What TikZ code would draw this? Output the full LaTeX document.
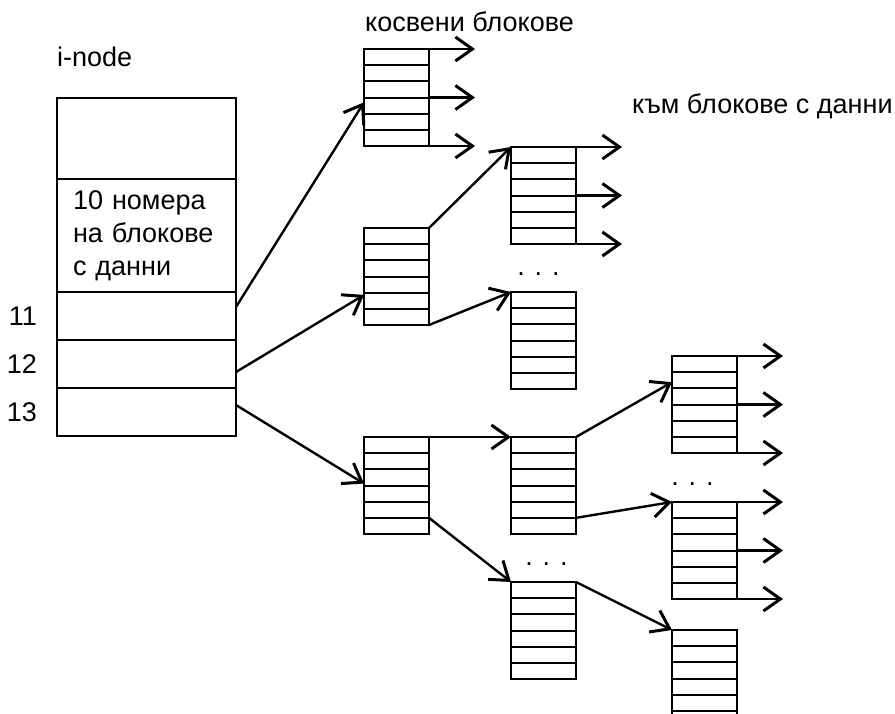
\documentclass[tikz,border=0pt]{standalone}
\usepackage{fontspec}
\setmainfont{Liberation Sans}
\usetikzlibrary{arrows.meta,positioning,calc}

\begin{document}
\begin{tikzpicture}[x=1pt,y=-1pt,
  every node/.style={font=\fontsize{27}{33}\selectfont},
  lbl/.style={inner sep=0pt},
  cell/.style={draw,line width=2.2pt,minimum width=179pt,inner sep=0pt,outer sep=0pt},
  blk/.style={draw,line width=2.2pt,minimum width=65pt,minimum height=97pt,inner sep=0pt,outer sep=0pt,anchor=north west,
    path picture={\foreach \k in {1,...,5}
      \draw[line width=2pt] ($(path picture bounding box.north west)!\k/6!(path picture bounding box.south west)$)
        -- ($(path picture bounding box.north east)!\k/6!(path picture bounding box.south east)$);}},
  ptr/.style={line width=2.4pt,-{Straight Barb[length=17pt,width=24pt,line width=3pt]}}]
  \useasboundingbox (0,0) rectangle (895,713);
  \clip (0,0) rectangle (895,713);

  % i-node
  \node[lbl,anchor=base west] (title) at (57,66) {i-node};
  \node[cell,anchor=north west,minimum height=81pt] (top) at (57,98) {};
  \node[cell,below=0pt of top,minimum height=113pt,text width=147pt,inner xsep=16pt,align=left] (data) {10 номера\\на блокове\\с данни};
  \node[cell,below=0pt of data,minimum height=48pt] (r11) {};
  \node[cell,below=0pt of r11,minimum height=48pt] (r12) {};
  \node[cell,below=0pt of r12,minimum height=48pt] (r13) {};
  \node[lbl,left=20pt of r11] (n11) {11};
  \node[lbl,left=20pt of r12] (n12) {12};
  \node[lbl,left=20pt of r13] (n13) {13};

  % indirect blocks
  \node[blk] (A) at (364,49) {};
  \node[blk] (B) at (364,228) {};
  \node[blk] (C) at (511,147) {};
  \node[blk] (D) at (511,292) {};
  \node[blk] (E) at (364,437) {};
  \node[blk] (F) at (511,437) {};
  \node[blk] (G) at (511,582) {};
  \node[blk] (H) at (672,356) {};
  \node[blk] (I) at (672,502) {};
  \node[blk] (J) at (672,630) {};

  \node[lbl,anchor=base west] (indir) at (365,31) {косвени блокове};
  \node[lbl,anchor=base west] (todata) at (632,113) {към блокове с данни};
  \node[lbl,anchor=base] (dotsD) at ($(D.north)+(-5,-17)$) {. . .};
  \node[lbl,anchor=base] (dotsG) at ($(G.north)+(3,-17)$) {. . .};
  \node[lbl,anchor=base] (dotsI) at ($(I.north)+(-12,-17)$) {. . .};

  % pointers
  \draw[ptr] ($(r11.east)+(0,-9)$) -- ($(A.north west)!0.55!(A.south west)$);
  \draw[ptr] ($(r12.east)+(0,8)$) -- ($(B.north west)!0.69!(B.south west)$);
  \draw[ptr] ($(r13.east)+(0,-7)$) -- ($(E.north west)!0.48!(E.south west)$);
  \draw[ptr] (B.north east) -- (C.north west);
  \draw[ptr] (B.south east) -- (D.north west);
  \draw[ptr] (E.north east) -- (F.north west);
  \draw[ptr] ($(E.north east)!5/6!(E.south east)$) -- (G.north west);
  \draw[ptr] (F.north east) -- ($(H.north west)!0.27!(H.south west)$);
  \draw[ptr] ($(F.north east)!5/6!(F.south east)$) -- (I.north west);
  \draw[ptr] (G.north east) -- (J.north west);

  % to data blocks
  \foreach \b in {A,C,H,I}
    \foreach \f/\n in {0/1,0.5/2,1/3} {
      \coordinate (\b o\n) at ($(\b.north east)!\f!(\b.south east)+(46,0)$);
      \draw[ptr] ($(\b.north east)!\f!(\b.south east)$) -- (\b o\n);
    }
\end{tikzpicture}
\end{document}
